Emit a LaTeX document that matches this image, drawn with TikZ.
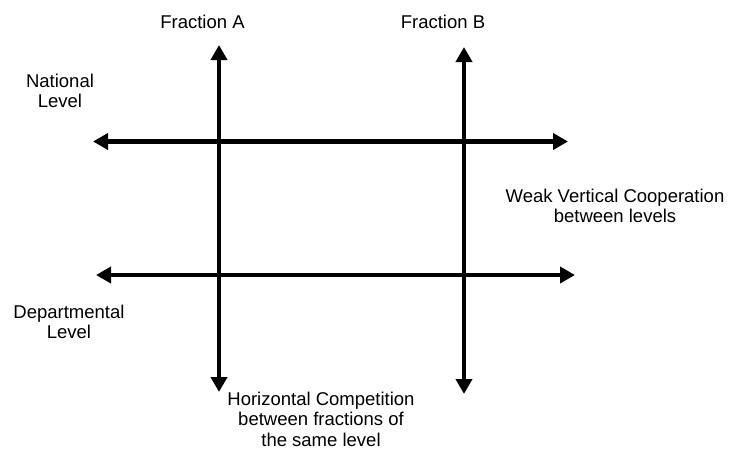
\documentclass[tikz,border=0pt]{standalone}
\usepackage{fontspec}
\setmainfont{Liberation Sans}
\usetikzlibrary{arrows.meta}
\begin{document}
\begin{tikzpicture}[x=1pt,y=-1pt,
  axisarrow/.style={line width=4.5pt,{Triangle[width=16pt,length=15pt]}-{Triangle[width=16pt,length=15pt]}},
  lbl/.style={inner sep=0pt,align=center,font=\fontsize{18.5}{20.5}\selectfont}]
\useasboundingbox (0,0) rectangle (731,450);
% arrow end points
\coordinate (aT) at (219,45);
\coordinate (aB) at (219,392);
\coordinate (bT) at (464,47);
\coordinate (bB) at (464,394);
\coordinate (nL) at (93,141.5);
\coordinate (nR) at (568,141.5);
\coordinate (dL) at (96,275);
\coordinate (dR) at (575,275);
\draw[axisarrow] (nL) -- (nR);
\draw[axisarrow] (dL) -- (dR);
\draw[axisarrow] (aB) -- (aT);
\draw[axisarrow] (bB) -- (bT);
% labels
\node[lbl,anchor=base] (fa) at (202.5,28) {Fraction A};
\node[lbl,anchor=base] (fb) at (443,28) {Fraction B};
\node[lbl,anchor=north] (nat) at (60,73.7) {National\\Level};
\node[lbl,anchor=north] (wvc) at (615,188.7) {Weak Vertical Cooperation\\between levels};
\node[lbl,anchor=north] (dep) at (69,304.7) {Departmental\\Level};
\node[lbl,anchor=north] (hc) at (321,391.7) {Horizontal Competition\\between fractions of\\the same level};
\end{tikzpicture}
\end{document}
